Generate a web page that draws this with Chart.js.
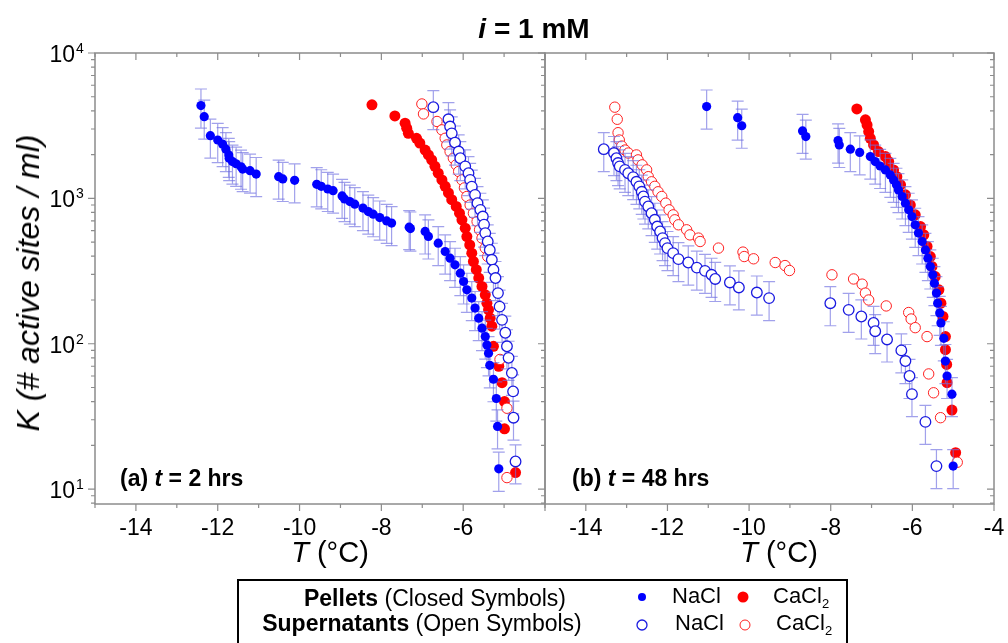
<!DOCTYPE html>
<html>
<head>
<meta charset="utf-8">
<script src="https://cdn.jsdelivr.net/npm/chart.js@4/dist/chart.umd.min.js"></script>
<style>
  body { margin: 0; background: #fff; font-family: "Liberation Sans", Arial, sans-serif; }
  #wrap { position: relative; width: 1008px; height: 643px; overflow: hidden; background: #fff; }
  canvas { position: absolute; left: 0; top: 0; }
  .txt { position: absolute; white-space: nowrap; color: #000; line-height: 1; }
  .legbox { position: absolute; left: 237px; top: 579px; width: 611px; height: 90px; border: 2px solid #000; box-sizing: border-box; }
  .mk { position: absolute; }
</style>
</head>
<body>
<div id="wrap">
  <canvas id="chartA" width="1008" height="643"></canvas>
  <canvas id="chartB" width="1008" height="643"></canvas>

  <div class="txt" style="left:534px; top:15px; transform:translateX(-50%); font-size:28px; font-weight:bold;"><i>i</i> = 1 mM</div>
  <div class="txt" style="left:28px; top:283px; transform:translate(-50%,-50%) rotate(-90deg); font-size:32px; font-style:italic;">K (# active sites / ml)</div>
  <div class="txt" style="left:330px; top:538px; transform:translateX(-50%); font-size:29px;"><i>T</i> (°C)</div>
  <div class="txt" style="left:779px; top:538px; transform:translateX(-50%); font-size:29px;"><i>T</i> (°C)</div>
  <div class="txt" style="left:120px; top:467px; font-size:23px; font-weight:bold;">(a) <i>t</i> = 2 hrs</div>
  <div class="txt" style="left:572px; top:467px; font-size:23px; font-weight:bold;">(b) <i>t</i> = 48 hrs</div>

  <div class="legbox"></div>
  <div class="txt" style="left:435px; top:587px; transform:translateX(-50%); font-size:23px;"><b>Pellets</b> (Closed Symbols)</div>
  <div class="txt" style="left:422px; top:612px; transform:translateX(-50%); font-size:23px;"><b>Supernatants</b> (Open Symbols)</div>
  <svg class="mk" style="left:0;top:0" width="1008" height="643">
    <circle cx="642" cy="597" r="4" fill="#0000ff"/>
    <circle cx="743" cy="597" r="5.5" fill="#ff0000"/>
    <circle cx="642" cy="625" r="5" fill="#fff" stroke="#1a1ae0" stroke-width="1.3"/>
    <circle cx="745" cy="625" r="5" fill="#fff" stroke="#ff2020" stroke-width="1"/>
  </svg>
  <div class="txt" style="left:672px; top:585px; font-size:22px;">NaCl</div>
  <div class="txt" style="left:773px; top:585px; font-size:22px;">CaCl<sub style="font-size:13px">2</sub></div>
  <div class="txt" style="left:675px; top:612px; font-size:22px;">NaCl</div>
  <div class="txt" style="left:776px; top:612px; font-size:22px;">CaCl<sub style="font-size:13px">2</sub></div>
</div>

<script>
// ---- data: T (°C) and K (# active sites / ml) ----

// (a) t = 2 hrs
var aNaClPelT = [-12.41,-12.33,-12.18,-12.00,-11.88,-11.80,-11.73,-11.72,-11.64,-11.55,-11.43,-11.39,-11.21,-11.06,-10.51,-10.41,-10.12,-9.58,-9.47,-9.31,-9.18,-8.96,-8.90,-8.77,-8.65,-8.45,-8.32,-8.20,-8.04,-7.87,-7.75,-7.32,-7.29,-6.93,-6.85,-6.61,-6.44,-6.32,-6.20,-6.07,-5.99,-5.91,-5.79,-5.71,-5.62,-5.54,-5.46,-5.42,-5.38,-5.35,-5.26,-5.19,-5.16,-5.13]
var aNaClPelK = [4350,3650,2700,2520,2360,2180,1990,1890,1790,1730,1650,1590,1550,1470,1410,1360,1330,1250,1210,1160,1130,1040,990,950,912,857,811,778,738,700,676,634,620,592,547,492,431,388,349,306,268,235,206,176,150,128,112,98,86,71,57,42,27,13.8]

var aCaClPelT = [-8.23,-7.67,-7.42,-7.38,-7.34,-7.14,-7.06,-6.93,-6.85,-6.77,-6.69,-6.61,-6.52,-6.44,-6.36,-6.28,-6.17,-6.09,-6.03,-5.95,-5.91,-5.84,-5.79,-5.75,-5.68,-5.62,-5.54,-5.46,-5.42,-5.38,-5.34,-5.30,-5.26,-5.13,-5.05,-4.99,-4.99,-4.72]
var aCaClPelK = [4400,3690,3290,3040,2800,2590,2400,2150,1990,1840,1660,1490,1340,1210,1090,980,880,791,712,624,546,478,420,368,323,283,248,217,190,171,150,132,96,70,54,40,26,13]

var aNaClSupT = [-6.73,-6.36,-6.32,-6.28,-6.20,-6.11,-6.07,-5.95,-5.87,-5.83,-5.79,-5.71,-5.65,-5.58,-5.52,-5.49,-5.46,-5.40,-5.35,-5.30,-5.26,-5.21,-5.15,-5.11,-5.05,-4.97,-4.93,-4.89,-4.81,-4.78,-4.77,-4.72]
var aNaClSupK = [4240,3500,3120,2800,2420,2100,1890,1660,1490,1340,1205,1057,927,834,750,660,577,505,442,378,323,283,223,180,146,119,96,80,63,47,31,15.5]

var aCaClSupT = [-7.01,-6.97,-6.64,-6.52,-6.44,-6.40,-6.32,-6.24,-6.17,-6.11,-6.03,-5.97,-5.91,-5.83,-5.75,-5.66,-5.60,-5.54,-5.46,-5.40,-5.10,-4.93,-4.93]
var aCaClSupK = [4460,3810,3380,2960,2590,2330,2100,1890,1700,1530,1340,1180,1030,900,790,693,608,533,455,398,78,36,12]

// (b) t = 48 hrs
var bNaClPelT = [-11.04,-10.28,-10.18,-8.69,-8.61,-7.82,-7.79,-7.52,-7.29,-7.03,-6.91,-6.79,-6.66,-6.54,-6.46,-6.39,-6.34,-6.25,-6.17,-6.09,-6.01,-5.93,-5.85,-5.76,-5.68,-5.62,-5.56,-5.50,-5.46,-5.41,-5.38,-5.33,-5.30,-5.23,-5.19,-5.15,-5.03,-5.00]
var bNaClPelK = [4280,3590,3160,2910,2660,2500,2330,2180,2070,1940,1790,1670,1570,1450,1340,1240,1140,1030,927,834,750,658,577,505,442,388,340,298,261,223,190,163,139,109,76,60,45,14.4]

var bCaClPelT = [-7.36,-7.15,-7.11,-7.07,-7.03,-6.95,-6.83,-6.66,-6.58,-6.46,-6.38,-6.29,-6.17,-6.05,-5.93,-5.80,-5.72,-5.64,-5.56,-5.52,-5.44,-5.35,-5.30,-5.25,-5.19,-5.19,-5.16,-5.15,-5.03,-4.94]
var bCaClPelK = [4120,3470,3200,2880,2590,2330,2100,1940,1790,1570,1410,1240,1057,900,770,640,561,467,398,340,290,235,190,154,112,91,72,54,35,17.8]

var bNaClSupT = [-13.56,-13.31,-13.25,-13.21,-13.17,-13.04,-12.96,-12.84,-12.76,-12.69,-12.63,-12.59,-12.55,-12.47,-12.39,-12.31,-12.25,-12.18,-12.12,-12.06,-12.00,-11.86,-11.73,-11.49,-11.28,-11.08,-10.92,-10.83,-10.47,-10.25,-9.81,-9.51,-8.01,-7.56,-7.25,-6.95,-6.91,-6.62,-6.27,-6.17,-6.07,-6.01,-5.68,-5.41]
var bNaClSupK = [2180,2050,1890,1750,1660,1570,1490,1400,1300,1210,1110,1030,950,880,791,712,640,592,533,492,455,420,382,362,334,317,298,279,264,244,225,206,190,171,154,139,122,107,90,76,60,45,29,14.4]

var bCaClSupT = [-13.29,-13.23,-13.21,-13.18,-13.12,-13.04,-12.96,-12.76,-12.72,-12.62,-12.51,-12.47,-12.39,-12.31,-12.23,-12.14,-12.04,-11.96,-11.86,-11.82,-11.73,-11.53,-11.45,-11.24,-11.20,-10.75,-10.15,-10.12,-9.89,-9.36,-9.12,-9.01,-7.97,-7.44,-7.23,-7.15,-7.07,-6.64,-6.09,-6.03,-5.93,-5.64,-5.60,-5.48,-5.31,-4.90]
var bCaClSupK = [4240,3500,2830,2520,2290,2150,2050,1990,1840,1700,1570,1410,1300,1210,1110,1030,927,834,770,712,658,608,561,533,505,455,427,398,384,362,345,319,298,279,257,223,200,182,164,148,129,112,62,46,31,15.3]

// relative size of the NaCl error bars, as measured on the figure
var naclErrFrac = 0.3

// tick labels
var xTicksA = [-14, -12, -10, -8, -6]
var xTicksB = [-14, -12, -10, -8, -6, -4]
var yPowers = [1, 2, 3, 4]

// ---- styling ----
var blue = '#0000ff'
var red = '#ff0000'
var errColor = 'rgba(110,110,225,0.65)'
var axisColor = '#8c8c8c'
var fontFam = '"Liberation Sans", Arial, sans-serif'

function pts(T, K) {
  return T.map(function (t, i) { return { x: t, y: K[i] } })
}

function panelSets(naT, naK, caT, caK, nsT, nsK, csT, csK) {
  // first in list is drawn on top
  return [
    { data: pts(nsT, nsK), pointRadius: 5.3, backgroundColor: '#fff', borderColor: '#1a1ae0', borderWidth: 1.3, errFrac: naclErrFrac },
    { data: pts(naT, naK), pointRadius: 4.6, backgroundColor: blue, borderColor: blue, borderWidth: 0, errFrac: naclErrFrac },
    { data: pts(csT, csK), pointRadius: 5.2, backgroundColor: '#fff', borderColor: '#ff2020', borderWidth: 1 },
    { data: pts(caT, caK), pointRadius: 5.5, backgroundColor: red, borderColor: red, borderWidth: 0 }
  ]
}

// vertical error bars with caps, drawn just under each NaCl series
var errPlugin = {
  id: 'errbars',
  beforeDatasetDraw: function (chart, args) {
    var ds = chart.data.datasets[args.index]
    if (!ds.errFrac) return
    var ctx = chart.ctx, y = chart.scales.y, a = chart.chartArea
    ctx.save()
    ctx.beginPath()
    ctx.rect(a.left, a.top, a.right - a.left, a.bottom - a.top)
    ctx.clip()
    ctx.strokeStyle = errColor
    ctx.lineWidth = 1.2
    args.meta.data.forEach(function (el, i) {
      var k = ds.data[i].y
      var y1 = y.getPixelForValue(k * (1 + ds.errFrac))
      var y2 = y.getPixelForValue(k * (1 - ds.errFrac))
      ctx.beginPath()
      ctx.moveTo(el.x, y1); ctx.lineTo(el.x, y2)
      ctx.moveTo(el.x - 6, y1); ctx.lineTo(el.x + 6, y1)
      ctx.moveTo(el.x - 6, y2); ctx.lineTo(el.x + 6, y2)
      ctx.stroke()
    })
    ctx.restore()
  }
}

// frame, ticks and tick labels in the style of the original plot
var framePlugin = {
  id: 'frame',
  afterDraw: function (chart, args, opts) {
    var ctx = chart.ctx, a = chart.chartArea, x = chart.scales.x, y = chart.scales.y
    ctx.save()
    ctx.strokeStyle = axisColor
    ctx.lineWidth = 1.5
    ctx.strokeRect(a.left, a.top, a.right - a.left, a.bottom - a.top)

    ctx.lineWidth = 1.2
    ctx.beginPath()
    for (var v = Math.ceil(x.min); v <= x.max; v++) {
      var px = x.getPixelForValue(v)
      var len = (v % 2 === 0) ? 7 : 4
      ctx.moveTo(px, a.bottom); ctx.lineTo(px, a.bottom + len)
      ctx.moveTo(px, a.top); ctx.lineTo(px, a.top + len)
    }
    for (var d = 0; d <= 4; d++) {
      for (var m = 1; m <= 9; m++) {
        var val = m * Math.pow(10, d)
        if (val < y.min || val > y.max) continue
        var py = y.getPixelForValue(val)
        var l = (m === 1) ? 7 : 4
        if (opts.yLabels) { ctx.moveTo(a.left, py); ctx.lineTo(a.left - l, py) }
        ctx.moveTo(a.right, py); ctx.lineTo(a.right - l, py)
      }
    }
    ctx.stroke()

    ctx.fillStyle = '#000'
    ctx.font = '23px ' + fontFam
    ctx.textAlign = 'center'
    ctx.textBaseline = 'alphabetic'
    opts.xTicks.forEach(function (t) {
      ctx.fillText(String(t), x.getPixelForValue(t), a.bottom + 31)
    })

    if (opts.yLabels) {
      yPowers.forEach(function (p) {
        var py = y.getPixelForValue(Math.pow(10, p))
        ctx.font = '23px ' + fontFam
        ctx.textAlign = 'right'
        ctx.fillText('10', a.left - 20, py + 9)
        ctx.font = '14px ' + fontFam
        ctx.textAlign = 'left'
        ctx.fillText(String(p), a.left - 19, py)
      })
    }
    ctx.restore()
  }
}

function makeChart(id, datasets, padLeft, padRight, xTicks, yLabels) {
  return new Chart(document.getElementById(id), {
    type: 'scatter',
    data: { datasets: datasets },
    options: {
      responsive: false,
      animation: false,
      events: [],
      layout: { padding: { left: padLeft, right: padRight, top: 53, bottom: 139 } },
      plugins: {
        legend: { display: false },
        tooltip: { enabled: false },
        frame: { xTicks: xTicks, yLabels: yLabels }
      },
      scales: {
        x: { type: 'linear', min: -15, max: -4, display: false },
        y: { type: 'logarithmic', min: 7.9, max: 10000, display: false }
      }
    },
    plugins: [errPlugin, framePlugin]
  })
}

makeChart('chartA',
  panelSets(aNaClPelT, aNaClPelK, aCaClPelT, aCaClPelK, aNaClSupT, aNaClSupK, aCaClSupT, aCaClSupK),
  95, 1008 - 545, xTicksA, true)

makeChart('chartB',
  panelSets(bNaClPelT, bNaClPelK, bCaClPelT, bCaClPelK, bNaClSupT, bNaClSupK, bCaClSupT, bCaClSupK),
  545, 1008 - 994, xTicksB, false)
</script>
</body>
</html>
